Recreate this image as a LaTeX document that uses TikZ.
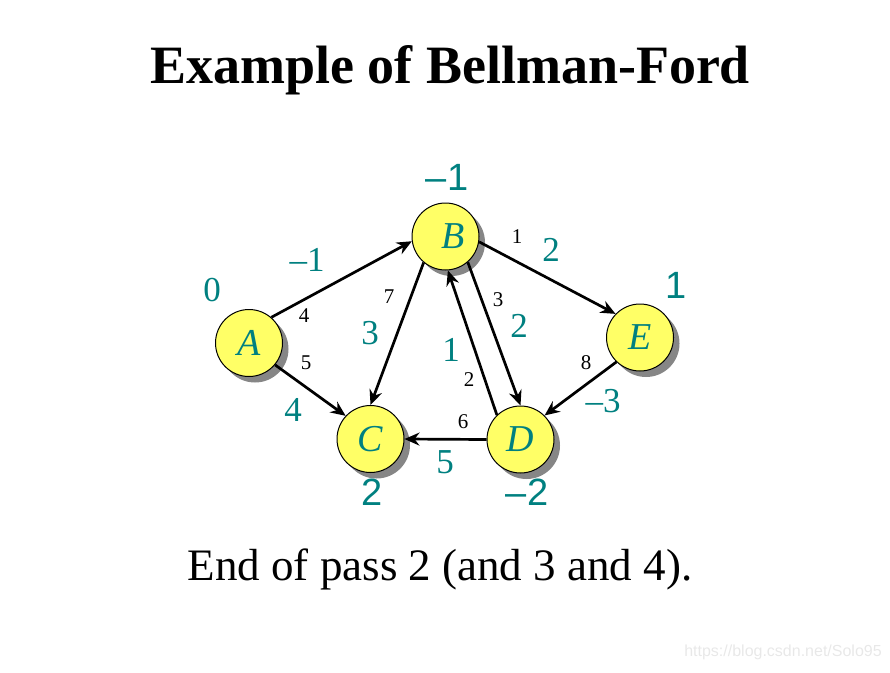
\documentclass[tikz,border=0pt]{standalone}
\usepackage{fontspec}
\setmainfont{Liberation Serif}
\newfontfamily\sansdist{Liberation Sans}
\usetikzlibrary{arrows.meta, shadows}
\definecolor{distteal}{RGB}{0,128,128}
\definecolor{nodeyellow}{RGB}{255,255,102}

\begin{document}
\begin{tikzpicture}[x=1pt, y=-1pt]
	\tikzstyle{vertex}=[circle, draw=black, line width=1, fill=nodeyellow, minimum size=67pt, inner sep=0pt, text=distteal, font=\fontsize{38}{38}\selectfont\itshape, drop shadow={shadow xshift=6pt, shadow yshift=-6pt, fill=gray!95, opacity=1}]
	\tikzstyle{edge}=[-{Stealth[length=15pt, width=13pt, inset=5pt]}, line width=2.7]
	\tikzstyle{weight}=[text=black, font=\fontsize{21}{21}\selectfont]
	\tikzstyle{dist}=[text=distteal, font=\fontsize{35}{35}\selectfont]
	\tikzstyle{distsans}=[text=distteal, font=\fontsize{38}{38}\selectfont\sansdist]
	
	\useasboundingbox (0,0) rectangle (890,672);
	
	\node (title) at (450,70) {\fontsize{54}{54}\selectfont\bfseries Example of Bellman-Ford};
	
	\node (A) at (249,343) [vertex] {A};
	\node (B) at (445.5,236.5) [vertex] {\hspace{16pt}B};
	\node (C) at (370.5,439) [vertex] {C};
	\node (D) at (520.5,439.5) [vertex] {D};
	\node (E) at (640,337.5) [vertex] {E};
	
	\draw [edge] (A.49) -- (B.188);
	\draw [edge] (A.-40) -- (C.137);
	\draw [edge] (B.230) -- (C.90);
	\draw [edge] (B.-49) -- (D.90);
	\draw [edge] (D.134) -- (B.-86);
	\draw [edge] (B.-9) -- (E.136);
	\draw [edge] (E.226) -- (D.45);
	\draw [edge] (D.180) -- (C.0);
	
	% weights
	\node (wab) at (304,316) [weight] {4};
	\node (wac) at (306,363) [weight] {5};
	\node (wbc) at (389,297) [weight] {7};
	\node (wbd) at (498,300) [weight] {3};
	\node (wdb) at (469,380) [weight] {2};
	\node (wbe) at (517,237) [weight] {1};
	\node (wed) at (586,363) [weight] {8};
	\node (wdc) at (463,422) [weight] {6};
	
	% distances
	\node (da) at (212,290) [dist] {0};
	\node (lab) at (307,260) [dist] {–1};
	\node (lac) at (293,410) [dist] {4};
	\node (lbc) at (370,333) [dist] {3};
	\node (ldb) at (451,350) [dist] {1};
	\node (lbd) at (519,326) [dist] {2};
	\node (lbe) at (551,250) [dist] {2};
	\node (led) at (603,401) [dist] {–3};
	\node (ldc) at (445,462) [dist] {5};
	
	\node (db) at (447,177) [distsans] {–1};
	\node (dc) at (372,492) [distsans] {2};
	\node (dd) at (527,492) [distsans] {–2};
	\node (de) at (676,285) [distsans] {1};
	
	\node (caption) at (440,569) {\fontsize{45}{45}\selectfont End of pass 2 (and 3 and 4).};
	\node (mark) at (783,652) [text=black!9, font=\fontsize{16}{16}\selectfont\sansdist] {https://blog.csdn.net/Solo95};
\end{tikzpicture}
\end{document}
